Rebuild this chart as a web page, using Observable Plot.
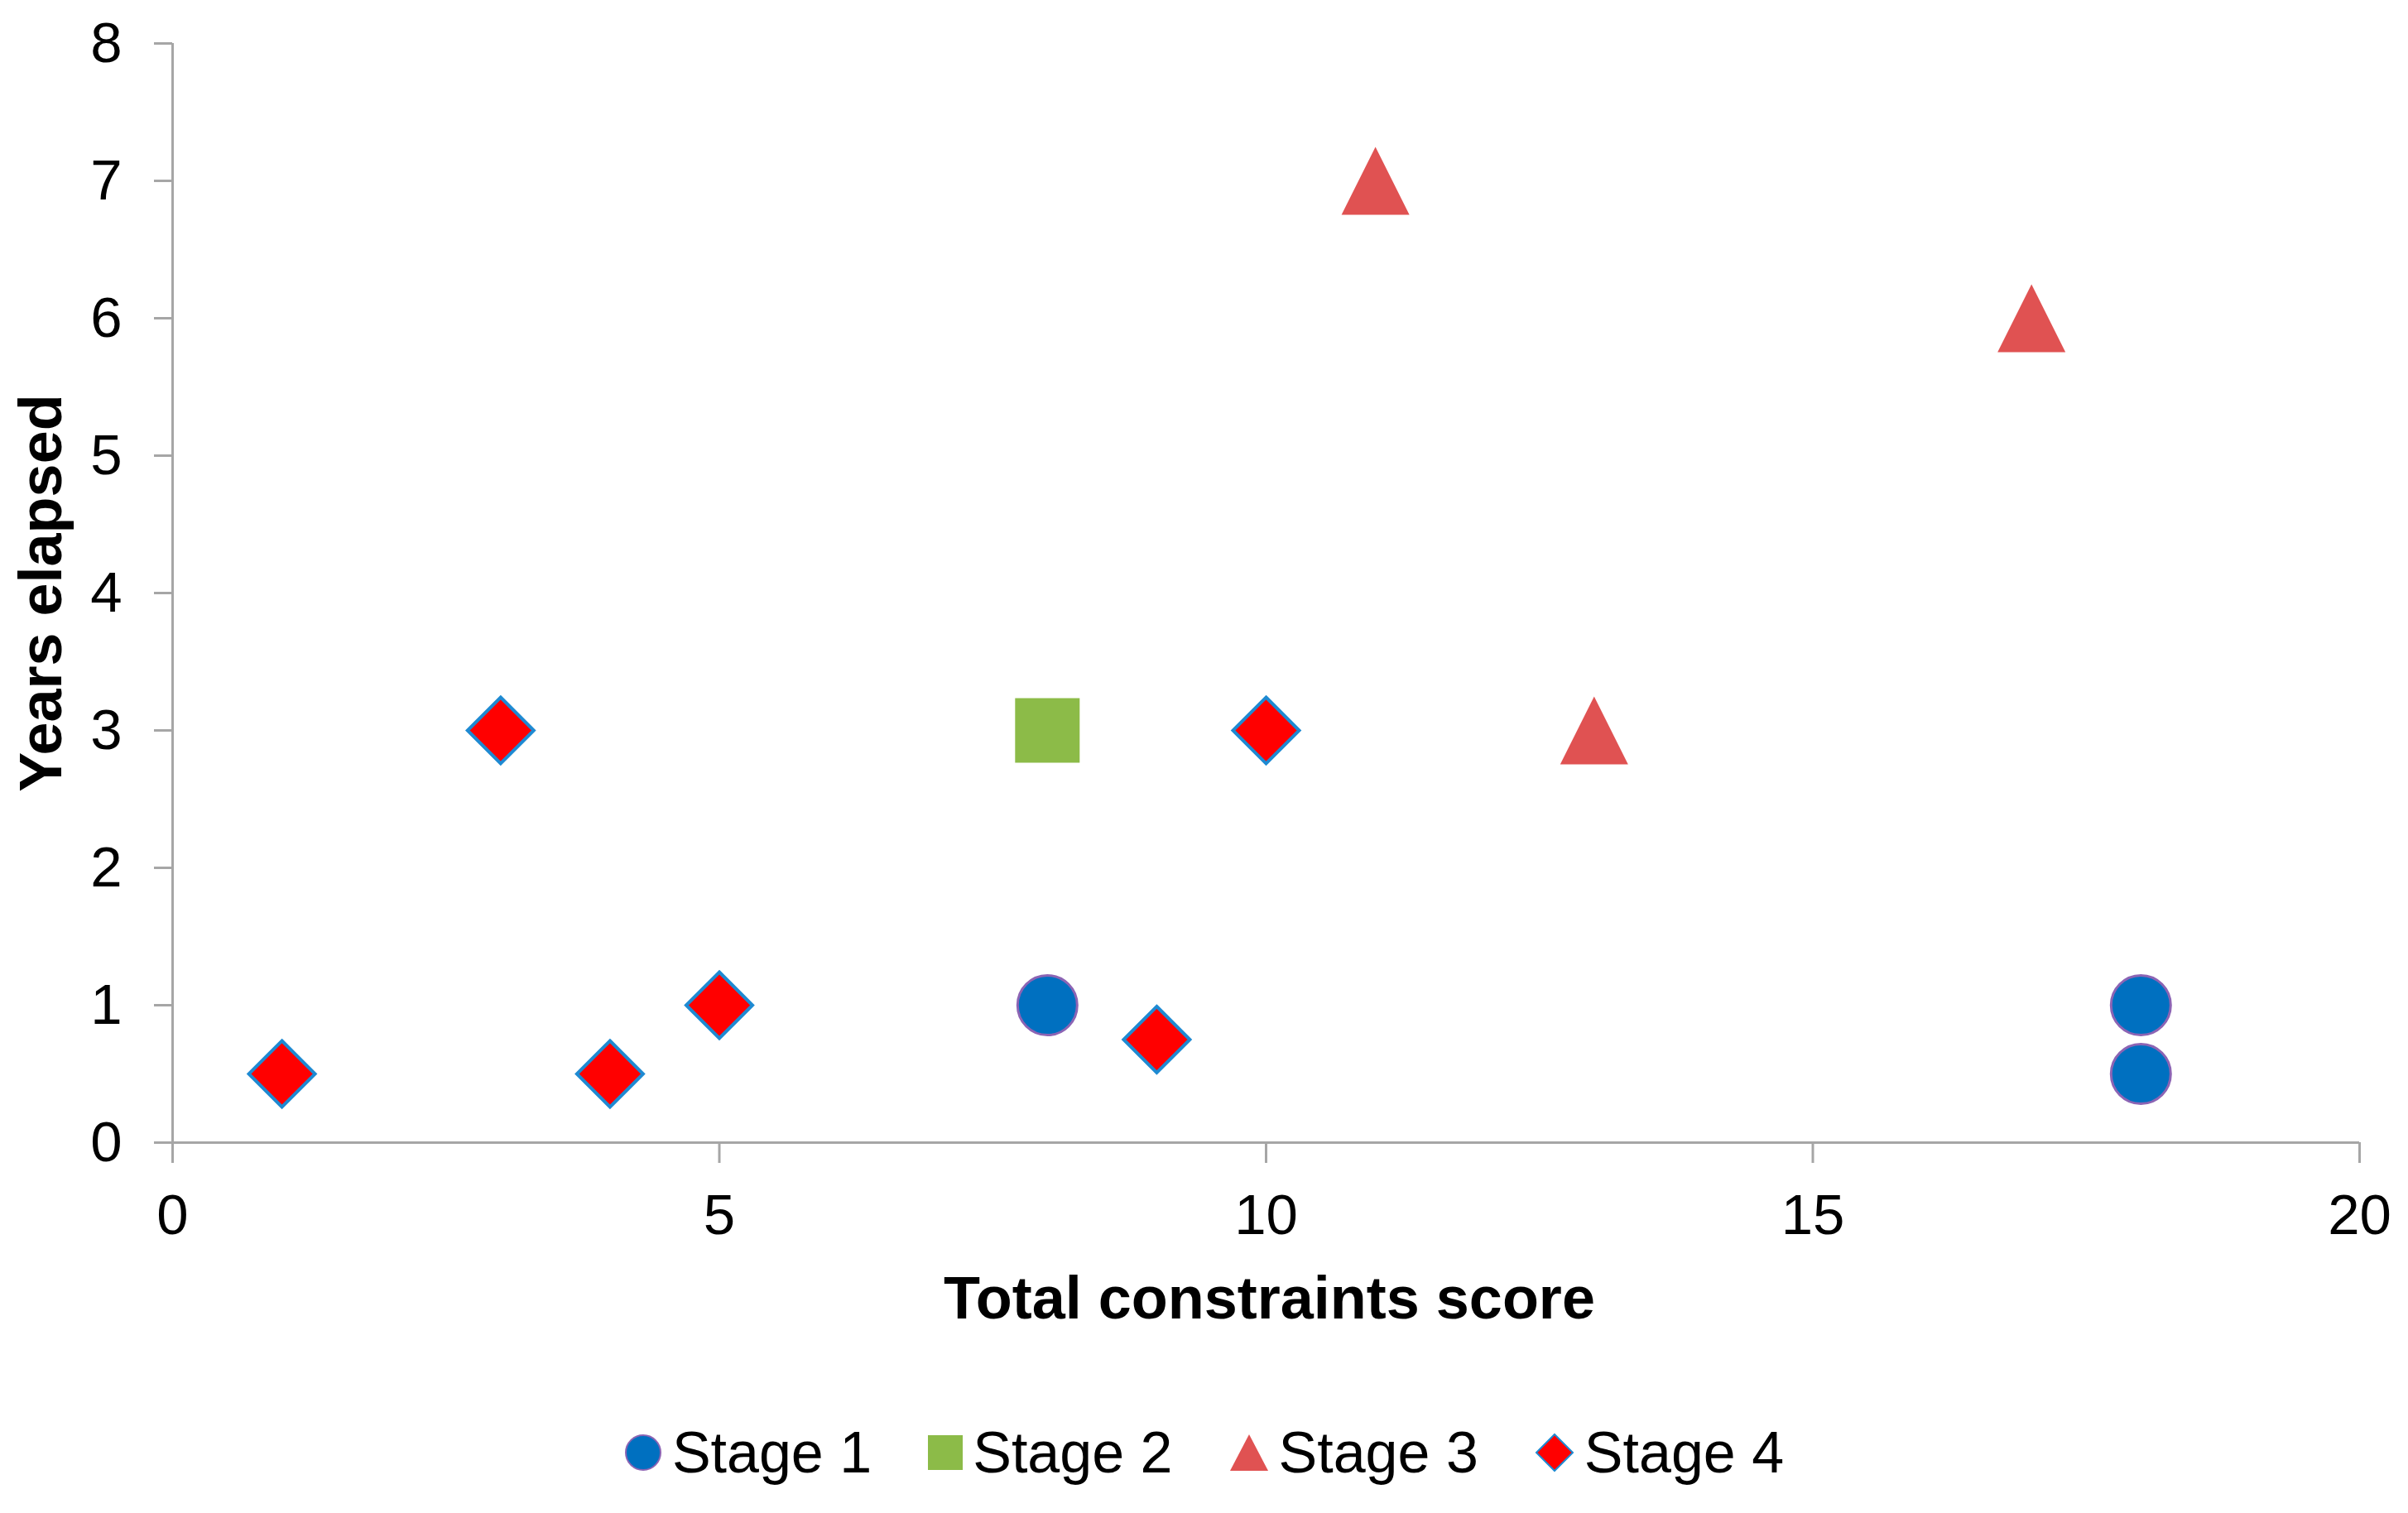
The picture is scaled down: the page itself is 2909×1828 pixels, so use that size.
<!DOCTYPE html>
<html><head><meta charset="utf-8">
<script src="https://cdn.jsdelivr.net/npm/d3@7"></script>
<script src="https://cdn.jsdelivr.net/npm/@observablehq/plot@0.6"></script>
<style>
html,body{margin:0;padding:0;background:#fff;}
body{width:2909px;height:1828px;position:relative;overflow:hidden;font-family:"Liberation Sans",Arial,sans-serif;}
#legend{position:absolute;left:0;width:2909px;top:1715px;height:80px;display:flex;justify-content:center;align-items:center;}
.item{display:flex;align-items:center;margin:0 34px;}
.item svg{display:block;margin-right:12px;}
.item span{font-size:70px;color:#000;line-height:1;}
</style></head><body>
<div id="chart"></div>
<div id="legend"></div>
<script>
// ---- data ----
const stageNames = ["Stage 1", "Stage 2", "Stage 3", "Stage 4"];
const stage1X = [8, 18, 18];
const stage1Y = [1, 1, 0.5];
const stage2X = [8];
const stage2Y = [3];
const stage3X = [11, 17, 13];
const stage3Y = [7, 6, 3];
const stage4X = [1, 3, 4, 5, 9, 10];
const stage4Y = [0.5, 3, 0.5, 1, 0.75, 3];
const xTicks = [0, 5, 10, 15, 20];
const yTicks = [0, 1, 2, 3, 4, 5, 6, 7, 8];
const xTitle = "Total constraints score";
const yTitle = "Years elapsed";

const toRows = (xs, ys) => xs.map((x, i) => ({x, y: ys[i]}));

// custom symbols (size = pi r^2)
const rad = s => Math.sqrt(s / Math.PI);
const symSquare = {draw(c, s){ const r = rad(s); c.rect(-r, -r, 2*r, 2*r); }};
const symTriangle = {draw(c, s){ const r = rad(s); c.moveTo(0, -r); c.lineTo(r, r); c.lineTo(-r, r); c.closePath(); }};
const symDiamond = {draw(c, s){ const r = rad(s); c.moveTo(0, -r); c.lineTo(r, 0); c.lineTo(0, r); c.lineTo(-r, 0); c.closePath(); }};

const colors = {
  s1fill: "#0070C0", s1stroke: "#8C64B4",
  s2fill: "#8CBB48",
  s3fill: "#E05252",
  s4fill: "#FF0000", s4stroke: "#1E8AD2"
};

const axisColor = "#A6A6A6";
const W = 2909, H = 1660;
const fmt = d => String(d);

const chart = Plot.plot({
  width: W,
  height: H,
  marginLeft: 208,
  marginRight: 59,
  marginTop: 52,
  marginBottom: H - 1380,
  style: {fontFamily: "'Liberation Sans', Arial, sans-serif", background: "#fff", color: "#000", overflow: "visible"},
  x: {domain: [0, 20]},
  y: {domain: [0, 8]},
  marks: [
    Plot.axisX(xTicks, {anchor: "bottom", tickSize: 25, tickPadding: 36, tickFormat: fmt, stroke: axisColor, strokeWidth: 3, fill: "#000", fontSize: 69, label: null}),
    Plot.axisY(yTicks, {anchor: "left", tickSize: 22, tickPadding: 39, tickFormat: fmt, stroke: axisColor, strokeWidth: 3, fill: "#000", fontSize: 69, label: null}),
    Plot.ruleX([0], {stroke: axisColor, strokeWidth: 3}),
    Plot.ruleY([0], {stroke: axisColor, strokeWidth: 3}),
    Plot.text([xTitle], {text: d => d, frameAnchor: "bottom", dy: 189, dx: 4, textAnchor: "middle", fontSize: 72, fontWeight: "bold", fill: "#000", lineAnchor: "middle"}),
    Plot.text([yTitle], {text: d => d, frameAnchor: "left", dx: -158, rotate: -90, textAnchor: "middle", fontSize: 72, fontWeight: "bold", fill: "#000", lineAnchor: "middle"}),
    Plot.dot(toRows(stage1X, stage1Y), {x: "x", y: "y", r: 36, symbol: "circle", fill: colors.s1fill, stroke: colors.s1stroke, strokeWidth: 3}),
    Plot.dot(toRows(stage2X, stage2Y), {x: "x", y: "y", r: 39, symbol: symSquare, fill: colors.s2fill, stroke: "none"}),
    Plot.dot(toRows(stage3X, stage3Y), {x: "x", y: "y", r: 41, symbol: symTriangle, fill: colors.s3fill, stroke: "none"}),
    Plot.dot(toRows(stage4X, stage4Y), {x: "x", y: "y", r: 40, symbol: symDiamond, fill: colors.s4fill, stroke: colors.s4stroke, strokeWidth: 4})
  ]
});
document.getElementById("chart").appendChild(chart);

// legend
const legendSym = [
  `<svg width="46" height="46" viewBox="-23 -23 46 46"><circle r="21" fill="${colors.s1fill}" stroke="${colors.s1stroke}" stroke-width="2"/></svg>`,
  `<svg width="42" height="42" viewBox="-21 -21 42 42"><rect x="-21" y="-21" width="42" height="42" fill="${colors.s2fill}"/></svg>`,
  `<svg width="48" height="44" viewBox="-24 -22 48 44"><path d="M0,-22L23,22L-23,22Z" fill="${colors.s3fill}"/></svg>`,
  `<svg width="48" height="48" viewBox="-24 -24 48 48"><path d="M0,-22L22,0L0,22L-22,0Z" fill="${colors.s4fill}" stroke="${colors.s4stroke}" stroke-width="2"/></svg>`
];
const leg = document.getElementById("legend");
stageNames.forEach((n, i) => {
  const d = document.createElement("div");
  d.className = "item";
  d.innerHTML = legendSym[i] + `<span>${n}</span>`;
  leg.appendChild(d);
});
</script>
</body></html>
